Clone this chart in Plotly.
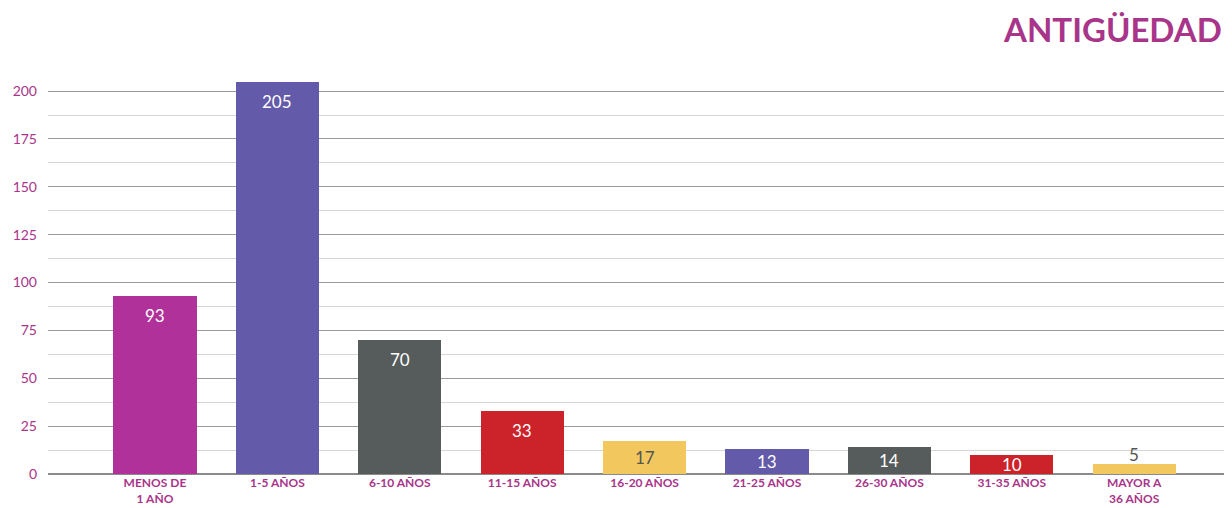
import plotly.graph_objects as go

categories = ["MENOS DE<br>1 AÑO", "1-5 AÑOS", "6-10 AÑOS", "11-15 AÑOS", "16-20 AÑOS",
              "21-25 AÑOS", "26-30 AÑOS", "31-35 AÑOS", "MAYOR A<br>36 AÑOS"]
values = [93, 205, 70, 33, 17, 13, 14, 10, 5]
bar_colors = ["#b1319a", "#635aa9", "#565b5b", "#cc2229", "#f2c85e",
              "#635aa9", "#565b5b", "#cc2229", "#f2c85e"]
label_colors = ["white", "white", "white", "white", "#555555",
                "white", "white", "white", "#555555"]
y_ticks = [0, 25, 50, 75, 100, 125, 150, 175, 200]

MAG = "#a8358a"
FONT = "Lato"
Y_MAX = 212.6
# page has an 8px body margin; compensate so the chart lands where the reference is
W, H = 1224, 500
M = dict(l=40, r=7, t=59, b=34)
PLOT_H = H - M["t"] - M["b"]
PX_PER_UNIT = PLOT_H / Y_MAX

fig = go.Figure()
fig.add_trace(go.Bar(
    x=list(range(len(categories))), y=values,
    marker=dict(color=bar_colors, line=dict(width=0)),
    width=0.68, hoverinfo="skip",
))

for i, (v, c) in enumerate(zip(values, label_colors)):
    outside = v < 8
    shift = 10 if outside else -min(20, v * PX_PER_UNIT / 2)
    fig.add_annotation(
        x=i, y=v, xref="x", yref="y", text=str(v), showarrow=False,
        yanchor="middle", yshift=shift,
        font=dict(family=FONT, size=17, color=c),
    )

fig.add_annotation(
    text="<b>ANTIGÜEDAD</b>", xref="paper", yref="paper", x=1, y=1,
    xanchor="right", yanchor="middle", xshift=-1, yshift=38, showarrow=False,
    font=dict(family=FONT, size=33, color=MAG),
)

fig.update_layout(
    width=W, height=H,
    margin=dict(**M, autoexpand=False),
    paper_bgcolor="white", plot_bgcolor="white",
    showlegend=False,
    bargap=0,
    xaxis=dict(
        range=[-0.874, 8.742], tickmode="array", automargin=False,
        tickvals=list(range(len(categories))), ticktext=[f"<b>{c}</b>" for c in categories],
        tickfont=dict(family=FONT, size=12, color=MAG),
        showgrid=False, zeroline=False, showline=False, ticks="",
    ),
    yaxis=dict(
        range=[0, Y_MAX], tickmode="array", tickvals=y_ticks, automargin=False,
        tickfont=dict(family=FONT, size=14, color=MAG),
        showgrid=True, gridcolor="#9a9a9a", gridwidth=1,
        zeroline=True, zerolinecolor="#8a8a8a", zerolinewidth=1.5,
        showline=False, ticks="", ticklabelstandoff=10,
        minor=dict(dtick=12.5, tick0=0, showgrid=True, gridcolor="#d6d6d6", gridwidth=1),
    ),
)

fig.write_html("out.html")
